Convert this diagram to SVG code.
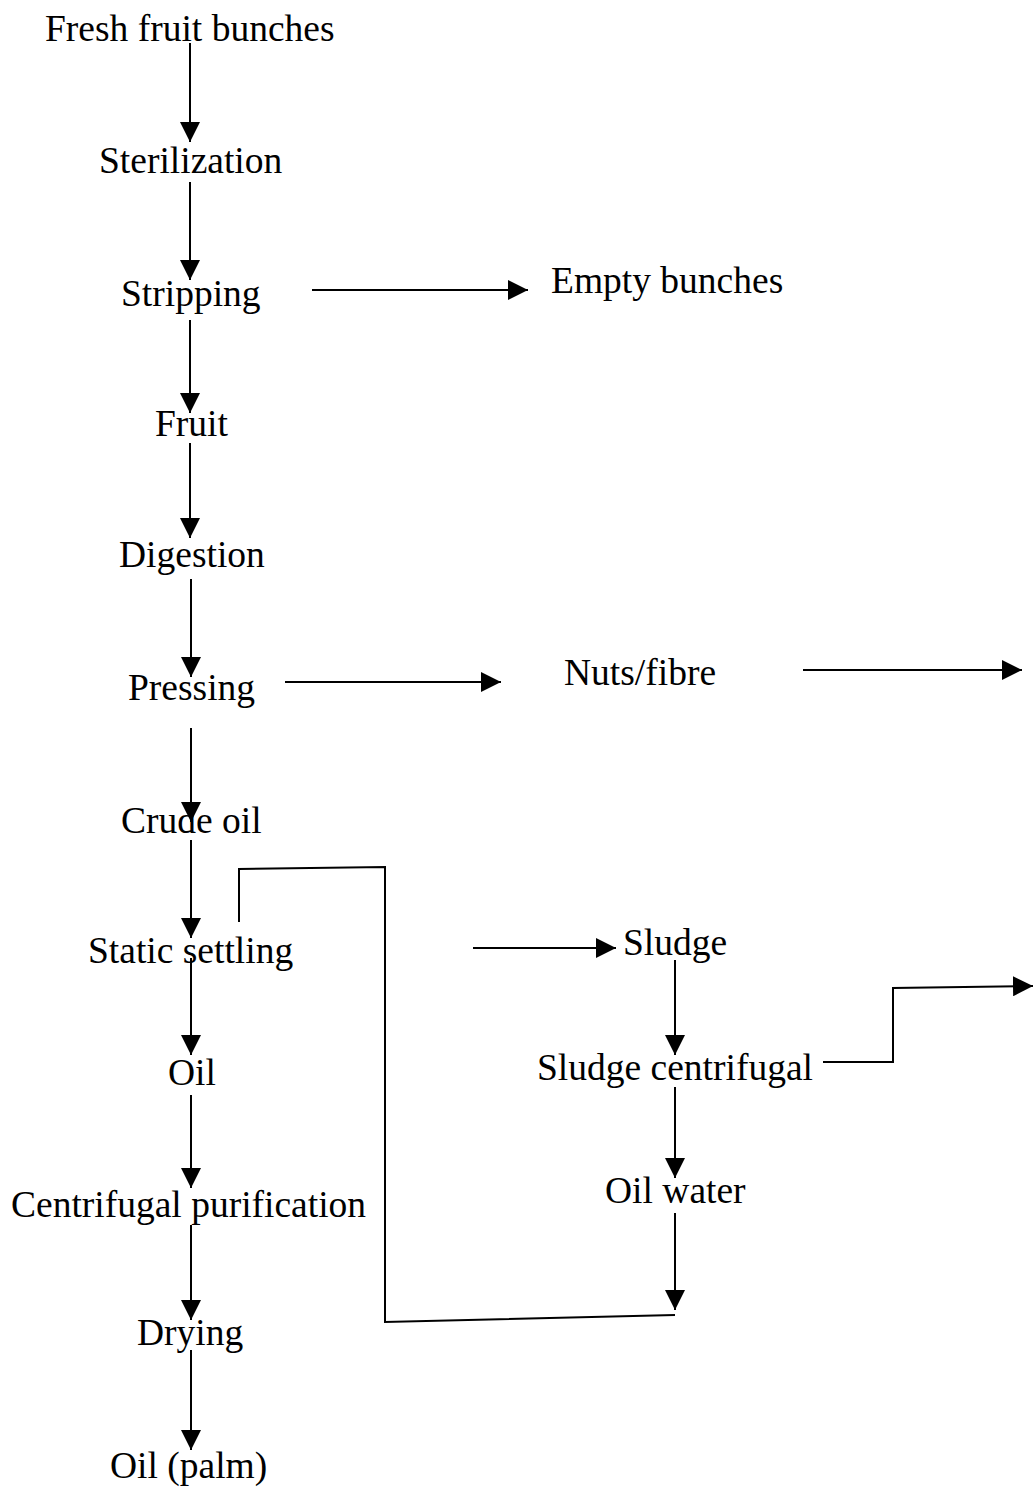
<svg xmlns="http://www.w3.org/2000/svg" width="1033" height="1492" viewBox="0 0 1033 1492">
<style>
text{font-family:"Liberation Serif","Times New Roman",serif;font-size:37.5px;fill:#000}
.c{fill:none;stroke:#000;stroke-width:2}
</style>
<defs>
<marker id="ah" markerUnits="userSpaceOnUse" markerWidth="20" markerHeight="20" refX="20" refY="10" orient="auto" viewBox="0 0 20 20">
<path d="M0,0 L20,10 L0,20 z" fill="#000"/>
</marker>
</defs>
<rect width="1033" height="1492" fill="#fff"/>
<g id="connectors">
<path class="c" d="M190,43 L190,142" marker-end="url(#ah)"/>
<path class="c" d="M190,182 L190,280" marker-end="url(#ah)"/>
<path class="c" d="M190,320 L190,413" marker-end="url(#ah)"/>
<path class="c" d="M190,443 L190,538" marker-end="url(#ah)"/>
<path class="c" d="M191,579 L191,677" marker-end="url(#ah)"/>
<path class="c" d="M191,728 L191,822" marker-end="url(#ah)"/>
<path class="c" d="M191,840 L191,938" marker-end="url(#ah)"/>
<path class="c" d="M191,958 L191,1055" marker-end="url(#ah)"/>
<path class="c" d="M191,1095 L191,1188" marker-end="url(#ah)"/>
<path class="c" d="M191,1225 L191,1320" marker-end="url(#ah)"/>
<path class="c" d="M191,1350 L191,1450" marker-end="url(#ah)"/>
<path class="c" d="M312,290 L528,290" marker-end="url(#ah)"/>
<path class="c" d="M285,682 L501,682" marker-end="url(#ah)"/>
<path class="c" d="M803,670 L1022,670" marker-end="url(#ah)"/>
<path class="c" d="M473,948 L616,948" marker-end="url(#ah)"/>
<path class="c" d="M675,960 L675,1055" marker-end="url(#ah)"/>
<path class="c" d="M675,1087 L675,1178" marker-end="url(#ah)"/>
<path class="c" d="M675,1213 L675,1310" marker-end="url(#ah)"/>
<path class="c" d="M239,922 L239,869 L385,867 L385,1322 L675,1315"/>
<path class="c" d="M823,1062 L893,1062 L893,988 L1033,986" marker-end="url(#ah)"/>
</g>
<g id="n-fresh"><text x="45" y="41">Fresh fruit bunches</text></g>
<g id="n-steril"><text x="99" y="173">Sterilization</text></g>
<g id="n-strip"><text x="121" y="306">Stripping</text></g>
<g id="n-empty"><text x="551" y="293">Empty bunches</text></g>
<g id="n-fruit"><text x="155" y="436">Fruit</text></g>
<g id="n-digest"><text x="119" y="567">Digestion</text></g>
<g id="n-press"><text x="128" y="700">Pressing</text></g>
<g id="n-nuts"><text x="564" y="685">Nuts/fibre</text></g>
<g id="n-crude"><text x="121" y="833">Crude oil</text></g>
<g id="n-static"><text x="88" y="963">Static settling</text></g>
<g id="n-oil"><text x="168" y="1085">Oil</text></g>
<g id="n-centpur"><text x="11" y="1217">Centrifugal purification</text></g>
<g id="n-drying"><text x="137" y="1345">Drying</text></g>
<g id="n-palm"><text x="110" y="1478">Oil (palm)</text></g>
<g id="n-sludge"><text x="623" y="955">Sludge</text></g>
<g id="n-sludgecent"><text x="537" y="1080">Sludge centrifugal</text></g>
<g id="n-oilwater"><text x="605" y="1203">Oil water</text></g>
</svg>
